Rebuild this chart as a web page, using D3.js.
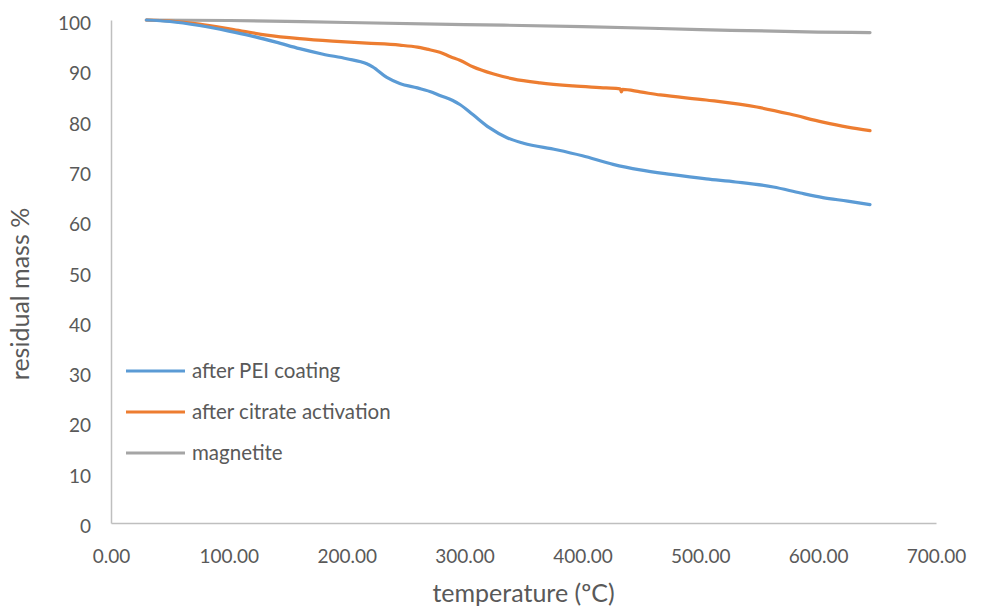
<!DOCTYPE html>
<html>
<head>
<meta charset="utf-8">
<script src="https://cdn.jsdelivr.net/npm/d3@7"></script>
<style>
  body { margin: 0; background: #fff; }
  text { font-family: Lato, "Open Sans", sans-serif; fill: #595959; }
</style>
</head>
<body>
<div id="chart"></div>
<script>
// data (temperature in ºC, residual mass in %)
var peiTemp = [30, 50, 75, 100, 118, 140, 160, 180, 200, 217, 222, 234, 245, 260, 273, 279, 290, 296, 307, 321, 336, 350, 378, 400, 426, 449, 475, 505, 530, 562, 585, 604, 625, 644];
var peiMass = [100, 99.7, 98.9, 97.8, 96.9, 95.6, 94.3, 93.2, 92.3, 91.3, 90.7, 88.6, 87.4, 86.5, 85.6, 85.0, 84.0, 83.2, 81.2, 78.6, 76.6, 75.5, 74.2, 73.0, 71.3, 70.2, 69.3, 68.4, 67.8, 66.8, 65.6, 64.7, 64.0, 63.3];

var citrateTemp = [30, 50, 75, 104, 132, 160, 188, 217, 245, 260, 268, 279, 288, 296, 307, 324, 341, 364, 392, 420, 432, 433, 434, 449, 466, 505, 548, 576, 604, 625, 644];
var citrateMass = [100, 99.8, 99.2, 98.1, 97.0, 96.3, 95.8, 95.4, 95.0, 94.6, 94.2, 93.6, 92.7, 92.0, 90.7, 89.3, 88.3, 87.5, 86.9, 86.5, 86.3, 85.7, 86.2, 85.7, 85.1, 84.1, 82.7, 81.3, 79.7, 78.7, 78.0];

var magTemp = [30, 100, 200, 300, 400, 500, 600, 644];
var magMass = [100, 99.9, 99.5, 99.1, 98.7, 98.1, 97.6, 97.5];

var seriesNames = ["after PEI coating", "after citrate activation", "magnetite"];
var seriesColors = ["#5B9BD5", "#ED7D31", "#A5A5A5"];

var xTicks = [0, 100, 200, 300, 400, 500, 600, 700];
var yTicks = [0, 10, 20, 30, 40, 50, 60, 70, 80, 90, 100];

// chart dimensions
var svgWidth = 984;
var svgHeight = 611;
var margins = { top: 20, right: 48, bottom: 88, left: 111 };
var width = svgWidth - margins.left - margins.right;
var height = svgHeight - margins.top - margins.bottom;

var svg = d3.select("#chart")
    .append("svg")
    .attr("width", svgWidth)
    .attr("height", svgHeight);

var chartGroup = svg.append("g")
    .attr("transform", `translate(${margins.left}, ${margins.top})`);

// scales
var xScale = d3.scaleLinear().domain([0, 700]).range([0, width]);
var yScale = d3.scaleLinear().domain([0, 100]).range([height, 0]);

// axes
var bottomAxis = d3.axisBottom(xScale)
    .tickValues(xTicks)
    .tickSize(0)
    .tickPadding(27)
    .tickFormat(d3.format(".2f"));
var leftAxis = d3.axisLeft(yScale)
    .tickValues(yTicks)
    .tickSize(0)
    .tickPadding(20);

var xAxisG = chartGroup.append("g")
    .attr("transform", `translate(0, ${height})`)
    .call(bottomAxis);
var yAxisG = chartGroup.append("g").call(leftAxis);

[xAxisG, yAxisG].forEach(function(g) {
    g.select(".domain").attr("stroke", "#BFBFBF").attr("stroke-width", 1.5);
    g.selectAll("text")
        .attr("font-size", 19)
        .style("font-family", "Lato, 'Open Sans', sans-serif")
        .attr("fill", "#595959");
});
yAxisG.selectAll("text").attr("dy", "0.5em");

// lines
var series = [
    peiTemp.map((t, i) => ({ t: t, m: peiMass[i] })),
    citrateTemp.map((t, i) => ({ t: t, m: citrateMass[i] })),
    magTemp.map((t, i) => ({ t: t, m: magMass[i] }))
];

var line = d3.line()
    .x(d => xScale(d.t))
    .y(d => yScale(d.m))
    .curve(d3.curveMonotoneX);

// magnetite first so it sits under the others
[2, 1, 0].forEach(function(k) {
    chartGroup.append("path")
        .datum(series[k])
        .attr("fill", "none")
        .attr("stroke", seriesColors[k])
        .attr("stroke-width", 3.2)
        .attr("stroke-linecap", "round")
        .attr("d", line);
});

// legend
var legend = svg.append("g").attr("transform", "translate(126, 371)");
seriesNames.forEach(function(name, i) {
    var row = legend.append("g").attr("transform", `translate(0, ${i * 41})`);
    row.append("line")
        .attr("x1", 0).attr("x2", 59)
        .attr("y1", 0).attr("y2", 0)
        .attr("stroke", seriesColors[i])
        .attr("stroke-width", 3.2);
    row.append("text")
        .attr("x", 66)
        .attr("y", 0)
        .attr("dy", "0.35em")
        .attr("font-size", 20.5)
        .text(name);
});

// axes labels
chartGroup.append("text")
    .attr("transform", `translate(${width / 2}, ${height + 79})`)
    .attr("text-anchor", "middle")
    .attr("font-size", 25)
    .text("temperature (ºC)");

chartGroup.append("text")
    .attr("transform", "rotate(-90)")
    .attr("x", 0 - 274)
    .attr("y", 0 - margins.left + 29)
    .attr("text-anchor", "middle")
    .attr("font-size", 25)
    .text("residual mass %");
</script>
</body>
</html>
